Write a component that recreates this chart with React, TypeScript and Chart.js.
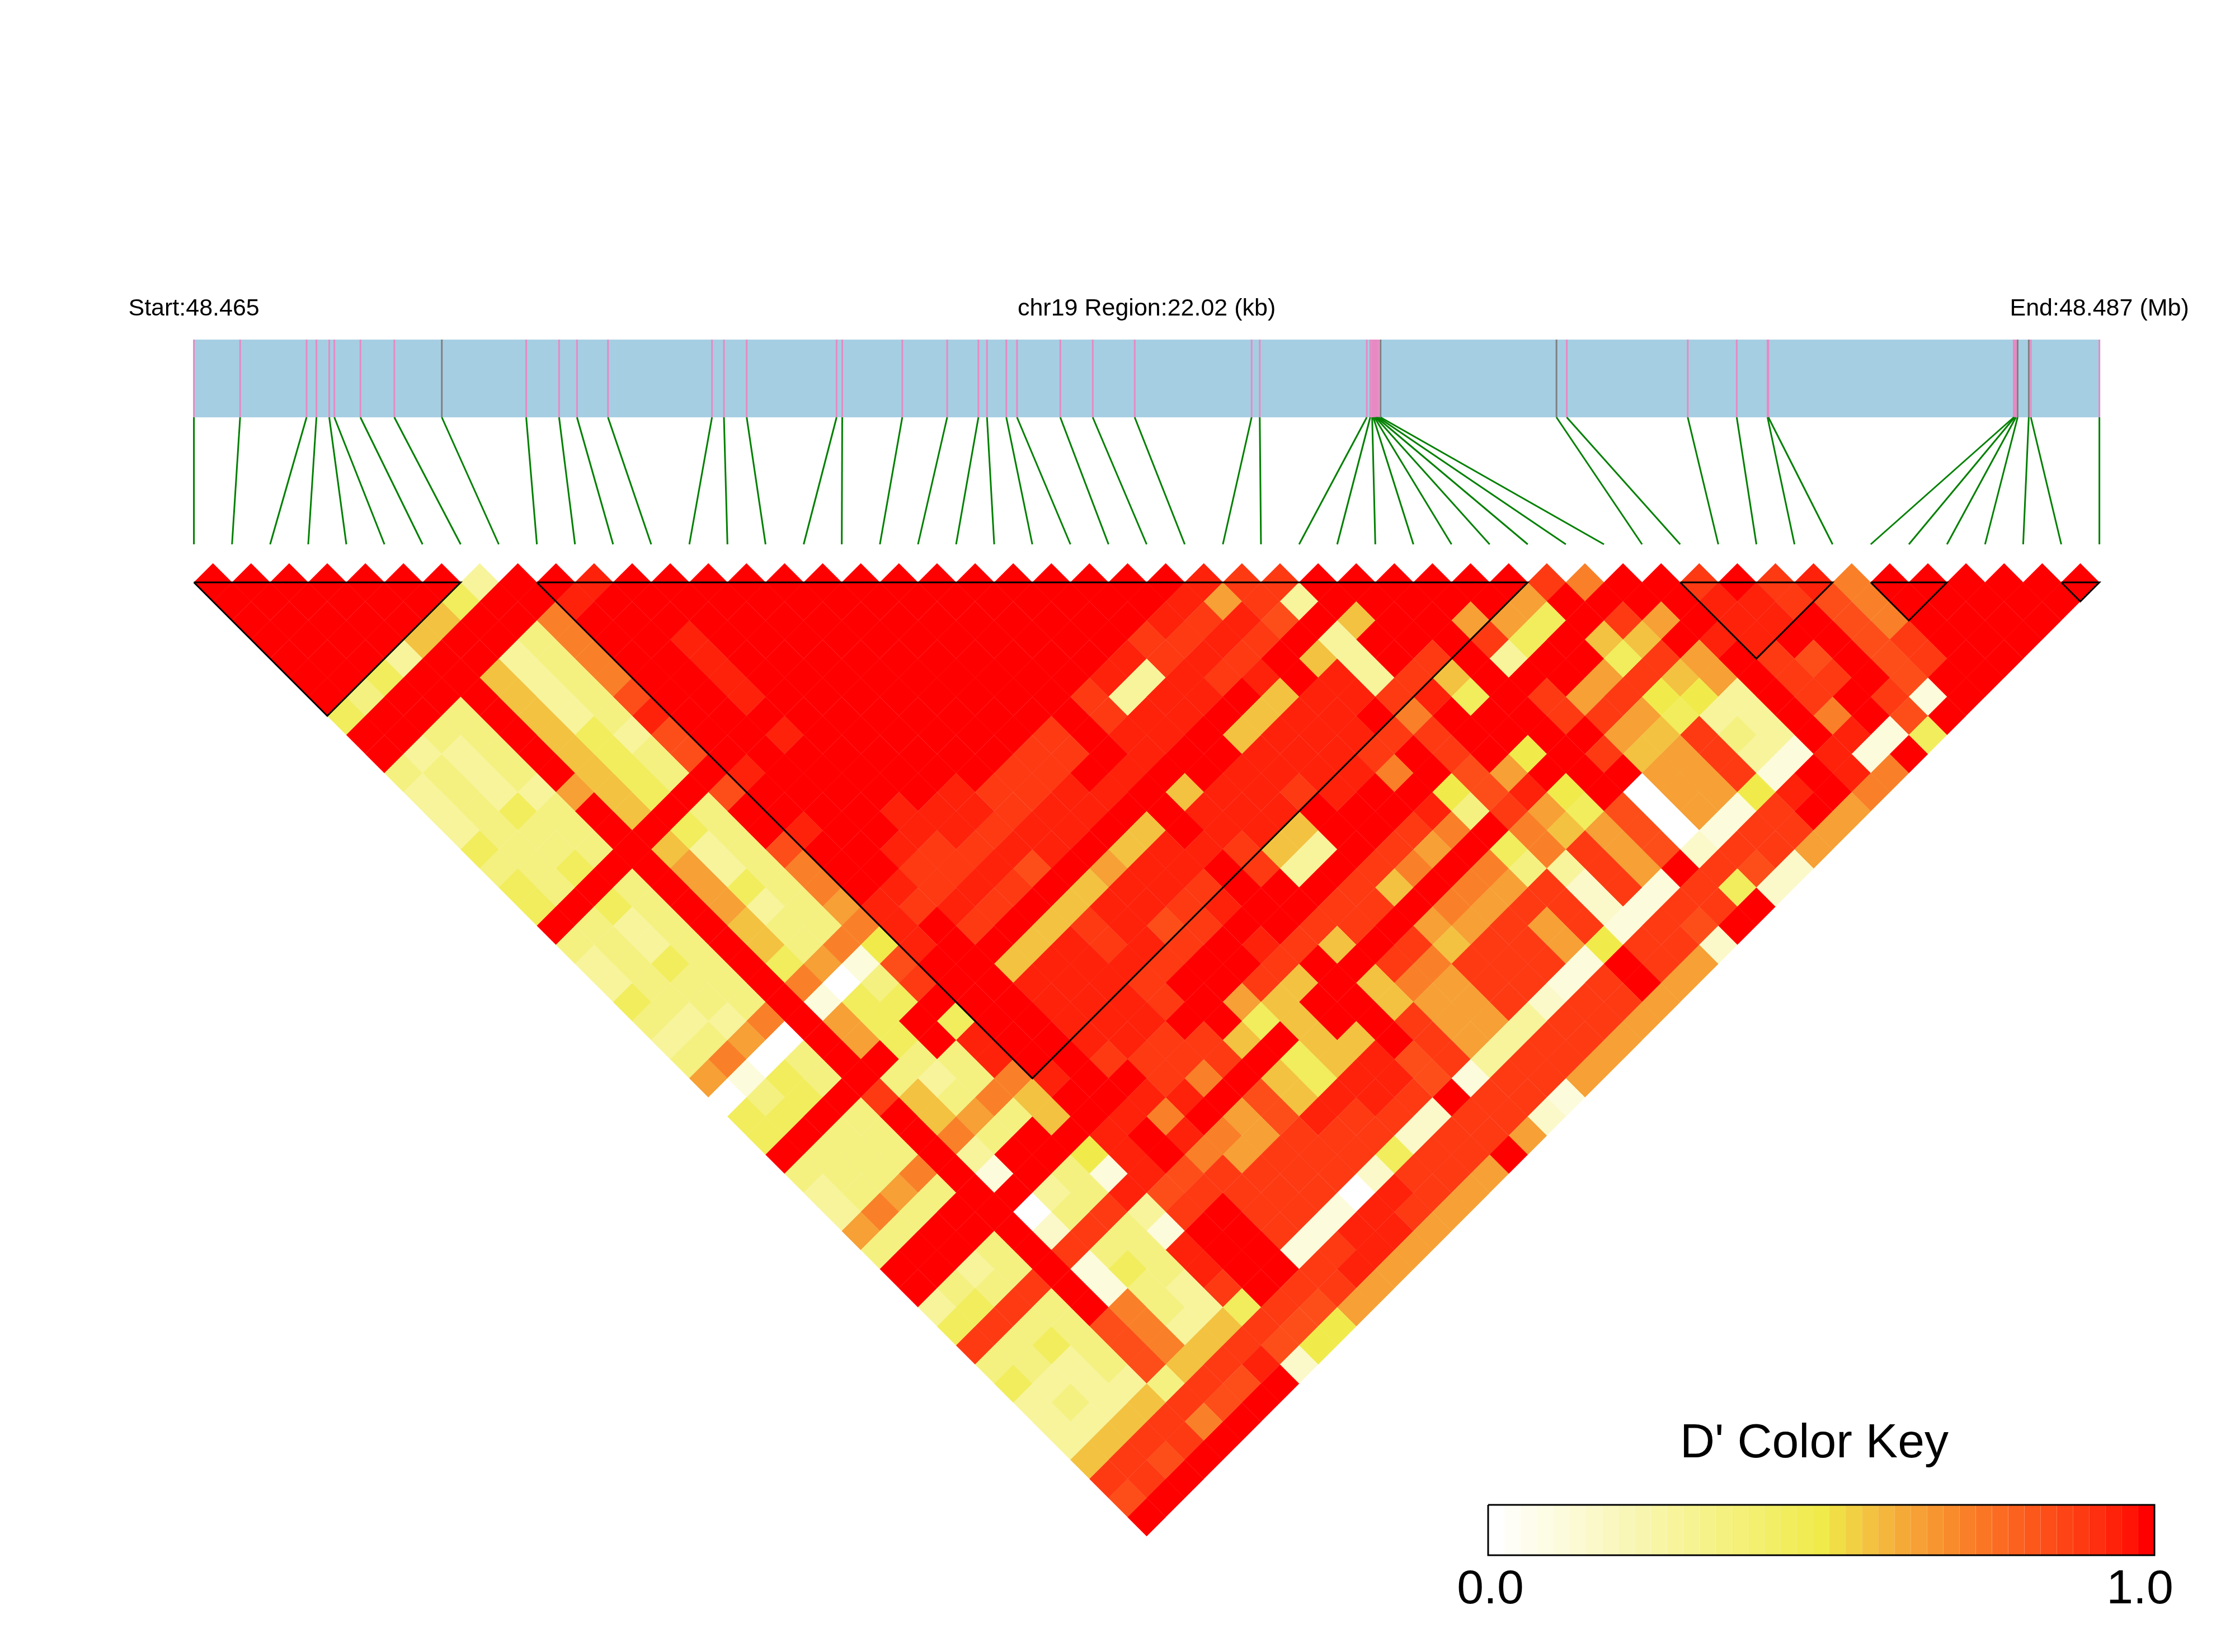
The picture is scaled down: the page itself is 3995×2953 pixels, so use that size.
import { useEffect, useRef } from "react";
import { Chart, registerables } from "chart.js";

Chart.register(...registerables);

// D' (percent) for SNP pairs, listed by separation (depth 1 = neighbours), left to right
const depth01 = [100,100,100,100,100,100,100,28,100,100,94,100,100,100,100,100,100,100,100,100,100,100,100,100,100,100,94,90,90,100,100,100,100,100,100,90,72,100,100,90,100,90,94,72,100,100,100,100,100,100];
const depth02 = [100,100,100,100,100,100,44,100,100,94,100,100,100,100,100,100,100,100,100,100,100,100,100,100,100,94,65,90,28,100,100,100,100,100,65,100,100,100,100,94,94,90,84,72,100,100,100,100,100];
const depth03 = [100,100,100,100,100,58,100,100,72,100,100,100,100,100,100,100,100,100,100,100,100,100,100,100,94,90,94,84,100,58,100,100,65,65,44,100,90,65,100,94,94,100,84,72,100,100,100,100];
const depth04 = [100,100,100,100,58,100,100,36,72,100,100,94,100,100,100,100,100,100,100,100,100,100,100,90,90,94,90,100,28,100,100,100,90,44,100,58,58,100,94,94,100,100,84,90,100,100,100];
const depth05 = [100,100,100,28,100,100,28,36,72,100,100,94,100,100,100,100,100,100,100,100,100,100,94,90,94,90,100,58,28,100,90,100,28,100,100,44,90,65,100,90,84,100,84,90,100,100];
const depth06 = [100,100,44,100,100,58,28,36,72,100,100,94,100,100,100,100,100,100,100,100,100,94,28,94,90,94,100,94,28,90,58,100,100,100,65,90,58,65,100,90,90,100,84,100,100];
const depth07 = [100,36,100,100,100,58,28,36,84,100,100,94,100,100,100,100,100,100,100,100,90,28,94,94,100,58,94,94,90,94,44,100,90,65,90,50,50,28,100,90,100,90,10,100];
const depth08 = [44,100,100,36,100,58,28,36,94,100,100,100,100,100,100,100,100,100,100,100,90,94,94,100,58,94,94,100,72,100,100,100,90,90,65,44,28,28,100,72,100,84,100];
const depth09 = [100,100,36,36,100,58,44,28,84,100,100,94,100,100,100,100,100,100,90,100,94,94,100,58,94,94,94,90,90,100,100,100,100,65,58,90,36,28,100,94,10,44];
const depth10 = [100,28,28,36,100,58,44,36,84,100,100,100,100,100,100,100,100,90,90,100,94,100,100,94,94,94,90,100,90,100,50,100,90,58,65,90,28,10,94,10,100];
const depth11 = [36,36,28,36,100,58,44,36,100,94,100,100,100,100,100,100,90,90,100,94,100,100,94,94,94,94,72,100,84,65,100,100,100,65,65,90,10,100,94,72];
const depth12 = [28,36,28,28,65,58,44,100,84,100,100,100,100,100,94,90,90,94,94,100,58,94,94,90,94,100,100,50,84,94,50,100,0,65,65,50,94,100,72];
const depth13 = [28,36,44,36,100,58,100,36,100,100,100,100,94,94,94,90,94,94,100,100,94,94,94,100,100,100,94,36,90,65,44,84,0,65,10,90,100,65];
const depth14 = [28,36,36,36,100,100,44,36,100,94,100,100,94,94,90,94,94,100,58,100,94,94,58,100,100,90,72,100,72,58,65,84,0,10,90,90,65];
const depth15 = [44,36,36,36,100,58,28,36,84,100,100,94,90,90,94,94,100,58,94,94,90,58,28,100,90,65,100,44,72,90,65,84,16,90,90,65];
const depth16 = [36,36,44,100,100,65,28,36,72,100,100,90,90,94,84,100,65,94,94,100,90,28,100,90,72,100,72,36,28,90,65,100,90,84,16];
const depth17 = [44,36,100,36,100,65,44,36,72,100,94,90,94,90,100,58,94,94,90,100,100,100,90,58,100,72,65,90,16,90,10,90,44,16];
const depth18 = [44,100,44,36,100,65,28,36,65,94,90,94,90,100,58,94,94,90,94,100,100,90,90,100,72,65,90,90,16,10,90,90,100];
const depth19 = [100,36,28,36,100,58,36,36,72,94,100,90,100,58,90,94,84,90,100,100,90,90,100,65,65,90,65,90,10,90,84,100];
const depth20 = [36,36,28,36,100,58,36,72,50,94,100,100,58,94,90,94,90,100,94,90,58,100,90,58,90,90,65,50,90,90,16];
const depth21 = [28,36,44,36,100,44,65,10,84,100,100,58,94,94,94,90,100,100,90,100,100,90,72,90,90,90,10,100,90,65];
const depth22 = [28,36,36,36,100,72,0,36,90,100,100,94,94,94,90,100,100,90,58,100,58,72,65,90,90,10,90,100,65];
const depth23 = [44,36,36,36,100,10,44,44,100,100,100,94,94,94,90,100,65,58,100,100,58,65,65,90,16,90,90,65];
const depth24 = [36,28,28,72,100,65,44,100,44,100,100,94,94,94,100,100,44,58,100,100,90,65,65,28,90,90,65];
const depth25 = [28,36,65,0,100,65,44,100,94,100,100,94,94,90,90,58,100,58,58,100,90,65,28,90,90,65];
const depth26 = [36,72,0,36,100,100,36,36,94,100,100,90,90,90,90,100,44,58,94,84,90,28,90,90,65];
const depth27 = [65,10,44,36,100,36,28,36,72,94,100,100,90,72,100,58,44,94,94,84,10,90,90,65];
const depth28 = [0,36,44,100,90,58,36,72,58,100,100,94,94,100,84,58,94,94,90,100,90,90,10];
const depth29 = [44,44,100,36,100,58,65,36,58,100,94,72,100,65,84,94,90,90,16,90,90,16];
const depth30 = [44,100,36,36,100,72,36,100,100,94,100,94,72,65,90,90,90,16,90,90,65];
const depth31 = [100,36,36,36,100,28,100,100,50,94,100,72,65,90,90,90,44,90,90,100];
const depth32 = [36,36,36,72,100,10,100,36,10,94,84,90,90,90,90,16,90,90,65];
const depth33 = [28,36,65,36,100,100,28,36,94,84,90,90,90,90,0,94,90,65];
const depth34 = [28,72,36,100,100,0,36,90,28,90,100,90,90,10,94,90,65];
const depth35 = [65,36,100,100,100,16,90,36,10,100,100,90,10,94,94,65];
const depth36 = [36,100,100,36,100,90,36,36,94,100,100,10,90,94,65];
const depth37 = [100,100,28,36,100,10,44,36,94,100,100,90,94,65];
const depth38 = [100,36,36,90,100,10,36,28,90,100,90,90,65];
const depth39 = [28,44,90,36,100,72,36,28,44,90,84,65];
const depth40 = [44,90,36,36,84,72,28,58,90,84,50];
const depth41 = [90,36,44,36,84,72,58,90,84,50];
const depth42 = [36,36,28,36,84,58,90,94,16];
const depth43 = [44,28,28,28,36,90,84,100];
const depth44 = [28,36,28,58,90,84,100];
const depth45 = [28,28,58,90,72,100];
const depth46 = [28,58,90,90,100];
const depth47 = [58,90,84,100];
const depth48 = [90,90,100];
const depth49 = [84,100];
const depth50 = [100];

const depthRows = [depth01,depth02,depth03,depth04,depth05,depth06,depth07,depth08,depth09,depth10,depth11,depth12,depth13,depth14,depth15,depth16,depth17,depth18,depth19,depth20,depth21,depth22,depth23,depth24,depth25,depth26,depth27,depth28,depth29,depth30,depth31,depth32,depth33,depth34,depth35,depth36,depth37,depth38,depth39,depth40,depth41,depth42,depth43,depth44,depth45,depth46,depth47,depth48,depth49,depth50];

// SNP positions, kb from the region start
const snpKb = [0,0.534,1.302,1.416,1.564,1.623,1.924,2.316,2.865,3.84,4.22,4.427,4.785,5.987,6.125,6.388,7.427,7.492,8.186,8.705,9.066,9.165,9.388,9.512,10.012,10.387,10.872,12.223,12.317,13.554,13.594,13.616,13.629,13.642,13.655,13.668,13.687,13.713,15.746,15.865,17.263,17.829,18.185,18.195,21.03,21.04,21.055,21.075,21.204,21.228,22.02];
const greySnps = [8,37,38,47,48];
const regionKb = 22.02;

// LD blocks (first and last SNP)
const blockStart = [0,9,39,44,49];
const blockEnd = [7,35,43,46,50];

// Colour key, low to high
const palette = ["#FFFFFF","#FEFEF6","#FEFDED","#FDFCE4","#FCFBDB","#FCFAD2","#FBF9C9","#FAF8C0","#F9F7B7","#F8F6AE","#F8F5A5","#F7F49C","#F6F393","#F5F28A","#F4F181","#F4F078","#F3EF6F","#F2EE66","#F1ED5D","#F1EC54","#F0EB4B","#F1DE47","#F2D044","#F3C240","#F4B63C","#F5AA38","#F6A035","#F79630","#F88B2C","#F98028","#FA7625","#FB6C22","#FC621F","#FC581C","#FD4E19","#FD4416","#FE3A13","#FE2E10","#FE220B","#FF1406","#FF0000"];

const WIDTH = 3995;
const HEIGHT = 2953;
const X0 = 346.6; // pixel of SNP 0
const UX = 34.06; // pixels per half cell
const Y0 = 1041; // pixel of the depth 1 row
const UY = 34.1;
const xv = (px: number) => (px - X0) / UX;
const yv = (py: number) => (py - Y0) / UY + 1;

const snpX = (kb: number) => (kb / regionKb) * 100;

function App() {
  const ref = useRef<HTMLCanvasElement | null>(null);
  useEffect(() => {
    document.body.style.margin = "0";
    const cells: { x: number; y: number }[] = [];
    const colours: string[] = [];
    depthRows.forEach((row, r) => {
      const depth = r + 1;
      row.forEach((v, k) => {
        cells.push({ x: 2 * k + depth, y: depth });
        colours.push(palette[Math.round((v / 100) * 40)]);
      });
    });
    const line = (data: { x: number; y: number }[], color: string, width: number) => ({
      data,
      showLine: true,
      borderColor: color,
      backgroundColor: color,
      borderWidth: width,
      pointRadius: 0,
      tension: 0,
      fill: false,
      borderJoinStyle: "miter",
      borderCapStyle: "butt",
    });
    const barTop = yv(607);
    const barBottom = yv(746);
    const slotBottom = yv(973);
    const keyLeft = xv(2660);
    const keyRight = xv(3851);
    const keyTop = yv(2690);
    const keyBottom = yv(2780);
    const keyMid = (keyTop + keyBottom) / 2;
    const keyStep = (keyRight - keyLeft) / palette.length;

    const datasets: any[] = [];
    blockStart.forEach((s, i) => {
      const e = blockEnd[i];
      datasets.push(
        line(
          [
            { x: 2 * s, y: 1 },
            { x: 2 * e, y: 1 },
            { x: s + e, y: e - s + 1 },
            { x: 2 * s, y: 1 },
          ],
          "#000000",
          3
        )
      );
    });
    datasets.push(
      line(
        [
          { x: keyLeft, y: keyTop },
          { x: keyRight, y: keyTop },
          { x: keyRight, y: keyBottom },
          { x: keyLeft, y: keyBottom },
          { x: keyLeft, y: keyTop },
        ],
        "#000000",
        3
      )
    );
    palette.forEach((c, i) => {
      datasets.push(
        line(
          [
            { x: keyLeft + i * keyStep, y: keyMid },
            { x: keyLeft + (i + 1) * keyStep, y: keyMid },
          ],
          c,
          90
        )
      );
    });
    snpKb.forEach((kb, i) => {
      datasets.push(
        line(
          [
            { x: snpX(kb), y: barBottom },
            { x: 2 * i, y: slotBottom },
          ],
          "#008000",
          3
        )
      );
    });
    snpKb.forEach((kb, i) => {
      datasets.push(
        line(
          [
            { x: snpX(kb), y: barTop },
            { x: snpX(kb), y: barBottom },
          ],
          greySnps.includes(i) ? "#808080" : "#E78AC3",
          3
        )
      );
    });
    datasets.push(
      line(
        [
          { x: snpX(0), y: (barTop + barBottom) / 2 },
          { x: snpX(regionKb), y: (barTop + barBottom) / 2 },
        ],
        "#A6CEE3",
        139
      )
    );
    datasets.push({
      data: cells,
      showLine: false,
      pointStyle: "rectRot",
      pointRadius: UX + 0.2,
      pointHoverRadius: UX + 0.2,
      pointBackgroundColor: colours,
      pointBorderWidth: 0,
    });

    const textPlugin = {
      id: "plotText",
      afterDraw(chart: any) {
        const ctx = chart.ctx;
        const { x, y } = chart.scales;
        ctx.save();
        ctx.fillStyle = "#000";
        ctx.textAlign = "center";
        ctx.textBaseline = "alphabetic";
        ctx.font = '43px "Liberation Sans"';
        ctx.fillText("Start:48.465", x.getPixelForValue(0), y.getPixelForValue(yv(564)));
        ctx.fillText("chr19 Region:22.02 (kb)", x.getPixelForValue(50), y.getPixelForValue(yv(564)));
        ctx.fillText("End:48.487 (Mb)", x.getPixelForValue(100), y.getPixelForValue(yv(564)));
        ctx.font = '86px "Liberation Sans"';
        ctx.fillText("D' Color Key", x.getPixelForValue(xv(3243)), y.getPixelForValue(yv(2605)));
        ctx.fillText("0.0", x.getPixelForValue(xv(2664)), y.getPixelForValue(yv(2866)));
        ctx.fillText("1.0", x.getPixelForValue(xv(3825)), y.getPixelForValue(yv(2866)));
        ctx.restore();
      },
    };

    const chart = new Chart(ref.current as HTMLCanvasElement, {
      type: "scatter",
      data: { datasets },
      options: {
        animation: false,
        responsive: false,
        devicePixelRatio: 1,
        events: [],
        layout: { padding: 0, autoPadding: false },
        plugins: { legend: { display: false }, tooltip: { enabled: false } },
        scales: {
          x: { type: "linear", display: false, min: xv(0), max: xv(WIDTH) },
          y: { type: "linear", display: false, min: yv(0), max: yv(HEIGHT), reverse: true },
        },
      },
      plugins: [textPlugin],
    } as any);
    return () => chart.destroy();
  }, []);
  return (
    <div style={{ position: "absolute", left: 0, top: 0, width: WIDTH, height: HEIGHT, background: "#fff" }}>
      <canvas ref={ref} width={WIDTH} height={HEIGHT} style={{ display: "block" }} />
    </div>
  );
}

export default App;
